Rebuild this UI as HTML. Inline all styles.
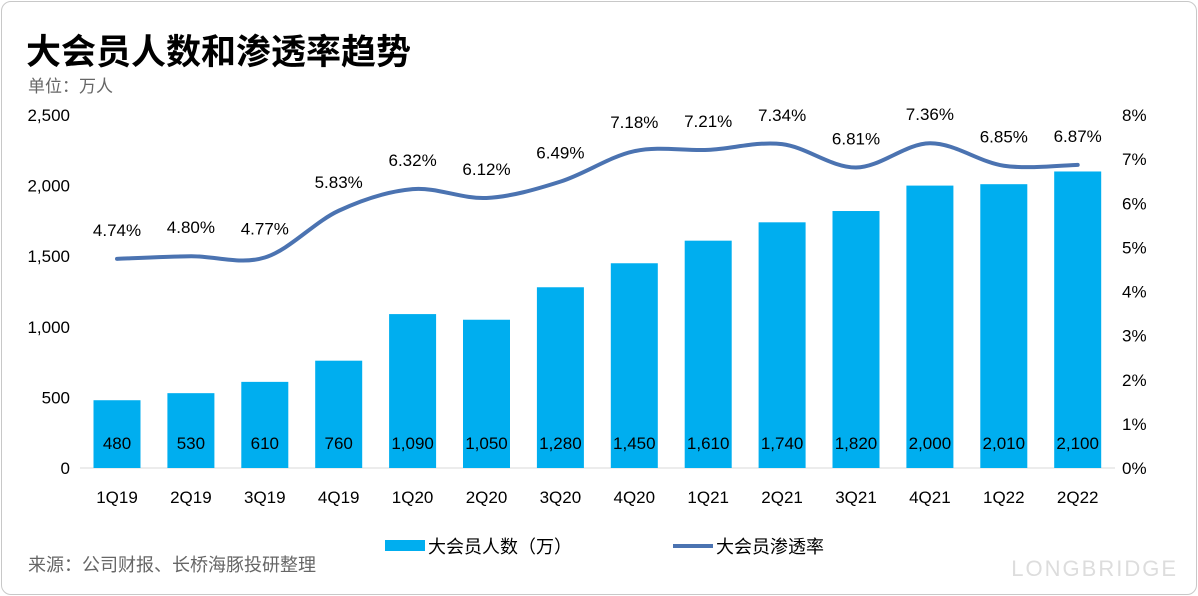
<!DOCTYPE html>
<html><head><meta charset="utf-8">
<style>
body{margin:0;background:#fff;font-family:"Liberation Sans","Noto Sans CJK SC",sans-serif;}
#wrap{position:relative;width:1198px;height:596px;overflow:hidden;background:#fff;}
#frame{position:absolute;left:1px;top:1px;width:1194px;height:592px;border:1px solid #c8c8c8;border-radius:10px;}
</style></head>
<body>
<div id="wrap">
<div id="frame"></div>
<svg id="chart" width="1198" height="596" style="position:absolute;left:0;top:0">
<text x="26" y="64" font-size="35" font-weight="bold" fill="#000" font-family="Liberation Sans,Noto Sans CJK SC,sans-serif">大会员人数和渗透率趋势</text>
<text x="28" y="92" font-size="17" fill="#666" font-family="Liberation Sans,Noto Sans CJK SC,sans-serif">单位：万人</text>
<text x="28" y="571" font-size="18" fill="#666" font-family="Liberation Sans,Noto Sans CJK SC,sans-serif">来源：公司财报、长桥海豚投研整理</text>
<text x="1178" y="576" font-size="22" fill="#ddd" text-anchor="end" letter-spacing="2">LONGBRIDGE</text>
<g id="marks"></g>
<rect x="385" y="540" width="40" height="11" fill="#00aeef"/>
<text x="428" y="553" font-size="18" fill="#000" font-family="Liberation Sans,Noto Sans CJK SC,sans-serif">大会员人数（万）</text>
<line x1="673" y1="546" x2="713" y2="546" stroke="#4b73b1" stroke-width="4"/>
<text x="716" y="553" font-size="18" fill="#000" font-family="Liberation Sans,Noto Sans CJK SC,sans-serif">大会员渗透率</text>
</svg>
</div>
<script>
const categories=["1Q19","2Q19","3Q19","4Q19","1Q20","2Q20","3Q20","4Q20","1Q21","2Q21","3Q21","4Q21","1Q22","2Q22"];
const members=[480,530,610,760,1090,1050,1280,1450,1610,1740,1820,2000,2010,2100];
const penetration=[4.74,4.80,4.77,5.83,6.32,6.12,6.49,7.18,7.21,7.34,6.81,7.36,6.85,6.87];
const leftTicks=[0,500,1000,1500,2000,2500];
const rightTicks=[0,1,2,3,4,5,6,7,8];
const NS="http://www.w3.org/2000/svg";
const g=document.getElementById('marks');
const y0=468,yTop=115;
const yL=v=>y0-(v/2500)*(y0-yTop);
const yR=v=>y0-(v/8)*(y0-yTop);
const xC=i=>117+i*73.9;
const fmt=n=>n.toLocaleString('en-US');
function mk(tag,attrs,txt){const e=document.createElementNS(NS,tag);for(const k in attrs)e.setAttribute(k,attrs[k]);if(txt!=null)e.textContent=txt;g.appendChild(e);return e;}
leftTicks.forEach(t=>{const e=mk('text',{x:70,y:yL(t)+6,'font-size':17,'text-anchor':'end',fill:'#000'},fmt(t));

});
rightTicks.forEach(t=>{const e=mk('text',{x:1122,y:yR(t)+6,'font-size':17,fill:'#000'},t+'%');

});
mk('line',{x1:80,y1:y0,x2:1115,y2:y0,stroke:'#d9d9d9','stroke-width':1});
categories.forEach((c,i)=>{
const x=xC(i),h=y0-yL(members[i]);
const b=mk('rect',{x:x-23.5,y:yL(members[i]),width:47,height:h,fill:'#00aeef'});


const l=mk('text',{x:x,y:449,'font-size':17,'text-anchor':'middle',fill:'#000'},fmt(members[i]));


const xl=mk('text',{x:x,y:503,'font-size':17,'text-anchor':'middle',fill:'#000'},c);


});
const pts=penetration.map((v,i)=>[xC(i),yR(v)]);
let d='M'+pts[0][0]+','+pts[0][1];
for(let i=0;i<pts.length-1;i++){const p0=pts[Math.max(0,i-1)],p1=pts[i],p2=pts[i+1],p3=pts[Math.min(pts.length-1,i+2)];const t=0.5/3*2;
d+=' C'+(p1[0]+(p2[0]-p0[0])*t/2)+','+(p1[1]+(p2[1]-p0[1])*t/2)+' '+(p2[0]-(p3[0]-p1[0])*t/2)+','+(p2[1]-(p3[1]-p1[1])*t/2)+' '+p2[0]+','+p2[1];}
const line=mk('path',{d:d,fill:'none',stroke:'#4b73b1','stroke-width':4,'stroke-linecap':'round'});


penetration.forEach((v,i)=>{const e=mk('text',{x:xC(i),y:yR(v)-23,'font-size':17,'text-anchor':'middle',fill:'#000'},v.toFixed(2)+'%');

});
</script>
</body></html>
